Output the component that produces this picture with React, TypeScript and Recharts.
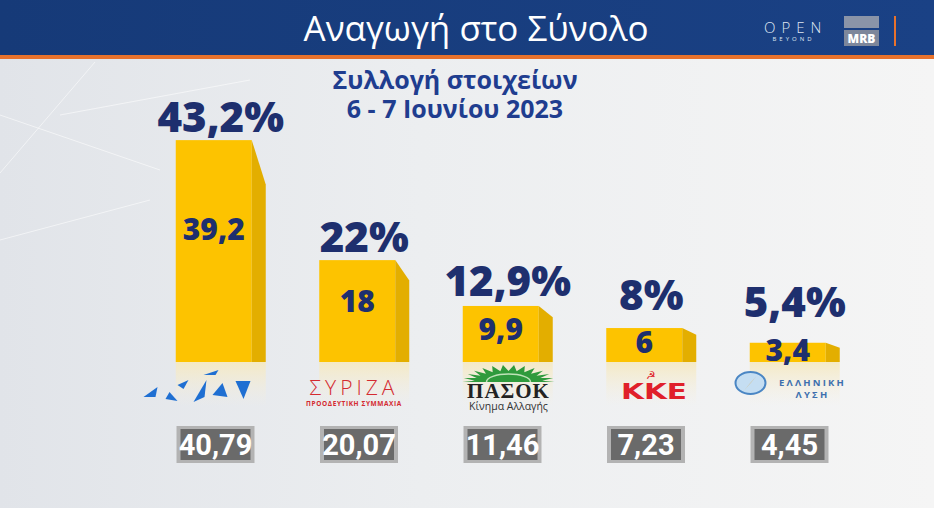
import React from 'react';
import { BarChart, Bar, XAxis, YAxis, LabelList } from 'recharts';

const parties = ['ΝΔ', 'ΣΥΡΙΖΑ', 'ΠΑΣΟΚ', 'ΚΚΕ', 'Ελληνική Λύση'];
const rawShare = [39.2, 18, 9.9, 6, 3.4];
const projected = [43.2, 22, 12.9, 8, 5.4];
const previous = [40.79, 20.07, 11.46, 7.23, 4.45];

const data = parties.map((party, i) => ({
  party,
  raw: rawShare[i],
  projected: projected[i],
  previous: previous[i],
}));

const NAVY = '#1e2f6e';
const FONT = "'Open Sans', 'Noto Sans', sans-serif";

const fmt = (v: number) => String(v).replace('.', ',');

// inner label sits ~40% down the bar, but never lower than the bar bottom allows
const innerCenter = (y: number, h: number) => Math.min(y + h * 0.4, y + h - 13);

const Bar3D = (props: any) => {
  const { x, y, width, height, index } = props;
  const fx = x - 7;
  const side = 14;
  const drop = Math.max(5, height * 0.2);
  const bottom = y + height;
  const gid = `refl-${index}`;
  return (
    <g>
      <defs>
        <linearGradient id={gid} x1="0" y1="0" x2="0" y2="1">
          <stop offset="0%" stopColor="#f5e9c2" stopOpacity={0.95} />
          <stop offset="100%" stopColor="#f5efe0" stopOpacity={0} />
        </linearGradient>
      </defs>
      <rect x={fx} y={bottom} width={width + side} height={44} fill={`url(#${gid})`} />
      <rect x={fx} y={y} width={width} height={height} fill="#fdc300" />
      <polygon
        points={`${fx + width},${y} ${fx + width + side},${y + drop} ${fx + width + side},${bottom} ${fx + width},${bottom}`}
        fill="#e3ae00"
      />
    </g>
  );
};

const RawLabel = (props: any) => {
  const { x, y, width, height, value } = props;
  return (
    <text
      x={x - 7 + width / 2}
      y={innerCenter(y, height)}
      textAnchor="middle"
      dominantBaseline="central"
      fill={NAVY}
      fontSize={30}
      fontWeight={800}
      fontFamily={FONT}
    >
      {fmt(value)}
    </text>
  );
};

const ProjectedLabel = (props: any) => {
  const { x, y, width, height, value } = props;
  const base = Math.min(y - 8, innerCenter(y, height) - 32);
  return (
    <text x={x + width / 2} y={base} textAnchor="middle" fill={NAVY} fontSize={42} fontWeight={800} fontFamily={FONT}>
      {fmt(value)}%
    </text>
  );
};

const sunPoints = (cx: number, cy: number) => {
  const pts: string[] = [];
  const n = 13;
  for (let k = 0; k <= n * 2; k++) {
    const a = Math.PI + (Math.PI * k) / (n * 2);
    const outer = k % 2 === 0;
    const rx = outer ? 46 : 34;
    const ry = outer ? 17 : 11;
    pts.push(`${cx + rx * Math.cos(a)},${cy + ry * Math.sin(a)}`);
  }
  return pts.join(' ');
};

const PartyLogo = ({ index, x, y }: { index: number; x: number; y: number }) => {
  if (index === 0) {
    const o = x - 25;
    const tris = [
      [[-52, 35], [-38, 25], [-40, 35]],
      [[-30, 37], [-26, 30], [-18, 39]],
      [[-18, 23], [-7, 18], [-12, 27]],
      [[-2, 40], [11, 18], [9, 35]],
      [[8, 13], [23, 8], [20, 13]],
      [[17, 33], [27, 21], [32, 35]],
      [[40, 19], [55, 19], [48, 37]],
    ];
    return (
      <g>
        {tris.map((t, k) => (
          <polygon key={k} points={t.map(([a, b]) => `${o + a},${y + b}`).join(' ')} fill="#1f6fd2" />
        ))}
      </g>
    );
  }
  if (index === 1) {
    const o = x - 10;
    return (
      <g fill="#d42a30" fontFamily={FONT}>
        <text x={o} y={y + 33} textAnchor="middle" fontSize={21} fontWeight={300} letterSpacing={4}>
          ΣΥΡΙΖΑ
        </text>
        <text x={o} y={y + 44} textAnchor="middle" fontSize={6.5} fontWeight={700} letterSpacing={0.6}>
          ΠΡΟΟΔΕΥΤΙΚΗ ΣΥΜΜΑΧΙΑ
        </text>
      </g>
    );
  }
  if (index === 2) {
    const o = x + 1;
    return (
      <g>
        <polygon points={sunPoints(o, y + 20)} fill="#2f9a3c" />
        <path d={`M ${o - 22} ${y + 20} A 22 8 0 0 1 ${o + 22} ${y + 20}`} fill="none" stroke="#bfe3b8" strokeWidth={1.5} />
        <text x={o} y={y + 36} textAnchor="middle" fontSize={21} fontWeight={700} fill="#222" fontFamily="'Liberation Serif', 'DejaVu Serif', serif" letterSpacing={1}>
          ΠΑΣΟΚ
        </text>
        <text x={o} y={y + 48} textAnchor="middle" fontSize={10.5} fill="#333" fontFamily={FONT}>
          Κίνημα Αλλαγής
        </text>
      </g>
    );
  }
  if (index === 3) {
    const o = x + 3;
    return (
      <g fill="#e0202a">
        <text x={o - 3} y={y + 17} textAnchor="middle" fontSize={11} fontFamily="'DejaVu Sans', sans-serif">
          ☭
        </text>
        <text x={o} y={y + 37} textAnchor="middle" fontSize={21} fontWeight={700} fontFamily="'DejaVu Sans', sans-serif" textLength={66} lengthAdjust="spacingAndGlyphs">
          ΚΚΕ
        </text>
      </g>
    );
  }
  const cx = x - 44;
  return (
    <g>
      <ellipse cx={cx} cy={y + 21} rx={15} ry={11} fill="#c5def2" stroke="#4a86c4" strokeWidth={2} />
      <polygon points={`${cx - 6},${y + 28} ${cx + 1},${y + 20} ${cx + 6},${y + 14} ${cx - 1},${y + 22}`} fill="#e0a030" />
      <text x={x + 18} y={y + 24} textAnchor="middle" fontSize={9.5} fontWeight={700} fill="#3d6fae" fontFamily={FONT} letterSpacing={2.2}>
        ΕΛΛΗΝΙΚΗ
      </text>
      <text x={x + 18} y={y + 36} textAnchor="middle" fontSize={9.5} fontWeight={700} fill="#3d6fae" fontFamily={FONT} letterSpacing={2.2}>
        ΛΥΣΗ
      </text>
    </g>
  );
};

const PartyTick = (props: any) => {
  const { x, y, payload } = props;
  const i = parties.indexOf(payload.value);
  const bx = x - 5;
  return (
    <g>
      <PartyLogo index={i} x={x} y={y} />
      <rect x={bx - 39} y={y + 64} width={78} height={37} fill="#b3b3b3" />
      <rect x={bx - 35} y={y + 67} width={70} height={31} fill="#6a6a6a" />
      <text
        x={bx}
        y={y + 83}
        textAnchor="middle"
        dominantBaseline="central"
        fill="#fff"
        fontSize={29}
        fontWeight={700}
        fontFamily="'Liberation Sans Narrow', 'Roboto', sans-serif"
      >
        {fmt(previous[i])}
      </text>
    </g>
  );
};

const App: React.FC = () => {
  return (
    <div
      style={{
        position: 'fixed',
        left: 0,
        top: 0,
        width: 934,
        height: 508,
        overflow: 'hidden',
        background: 'linear-gradient(90deg, #e1e4e9 0%, #eceef0 45%, #f5f5f5 100%)',
        fontFamily: FONT,
      }}
    >
      <svg width={934} height={508} style={{ position: 'absolute', left: 0, top: 0 }}>
        <g stroke="#ffffff" strokeOpacity={0.55} strokeWidth={1}>
          <line x1={0} y1={173} x2={95} y2={62} />
          <line x1={0} y1={115} x2={160} y2={170} />
          <line x1={0} y1={240} x2={150} y2={200} />
          <line x1={60} y1={115} x2={250} y2={80} />
        </g>
      </svg>

      <div
        style={{
          position: 'absolute',
          left: 0,
          top: 0,
          width: 934,
          height: 55,
          background: 'linear-gradient(90deg, #163a78 0%, #1a4185 100%)',
          borderBottom: '4px solid #e8722c',
        }}
      >
        <div
          style={{
            position: 'absolute',
            left: 0,
            width: 952,
            top: 7,
            textAlign: 'center',
            color: '#fff',
            fontSize: 35,
            lineHeight: '42px',
            fontWeight: 400,
          }}
        >
          Αναγωγή στο Σύνολο
        </div>
        <div style={{ position: 'absolute', left: 758, top: 19, width: 68, textAlign: 'center', color: '#dfe6f2' }}>
          <div style={{ fontSize: 15, letterSpacing: 6, lineHeight: '16px', fontWeight: 300, paddingLeft: 6 }}>OPEN</div>
          <div style={{ fontSize: 6, letterSpacing: 3, lineHeight: '9px', paddingLeft: 3 }}>BEYOND</div>
        </div>
        <div style={{ position: 'absolute', left: 844, top: 16, width: 35, height: 30 }}>
          <div style={{ height: 12, background: '#8a94a8' }} />
          <div
            style={{
              marginTop: 2,
              height: 16,
              background: '#7d879b',
              color: '#fff',
              fontSize: 12,
              fontWeight: 800,
              textAlign: 'center',
              lineHeight: '17px',
            }}
          >
            MRB
          </div>
        </div>
        <div style={{ position: 'absolute', left: 894, top: 16, width: 2, height: 30, background: '#e8722c' }} />
      </div>

      <div
        style={{
          position: 'absolute',
          left: 305,
          width: 300,
          top: 65,
          textAlign: 'center',
          color: '#1f3d8f',
          fontSize: 25,
          fontWeight: 700,
          lineHeight: '29px',
        }}
      >
        <div>Συλλογή στοιχείων</div>
        <div>6 - 7 Ιουνίου 2023</div>
      </div>

      <div style={{ position: 'absolute', left: 0, top: 0 }}>
        <BarChart
          width={934}
          height={508}
          data={data}
          margin={{ top: 135.6, right: 67.75, left: 148.75, bottom: 0 }}
        >
          <XAxis
            dataKey="party"
            height={146}
            axisLine={false}
            tickLine={false}
            tickSize={0}
            tickMargin={0}
            interval={0}
            tick={<PartyTick />}
          />
          <YAxis hide domain={[0, 40]} />
          <Bar dataKey="raw" barSize={76} shape={<Bar3D />} isAnimationActive={false}>
            <LabelList dataKey="raw" content={<RawLabel />} />
            <LabelList dataKey="projected" content={<ProjectedLabel />} />
          </Bar>
        </BarChart>
      </div>
    </div>
  );
};

export default App;
